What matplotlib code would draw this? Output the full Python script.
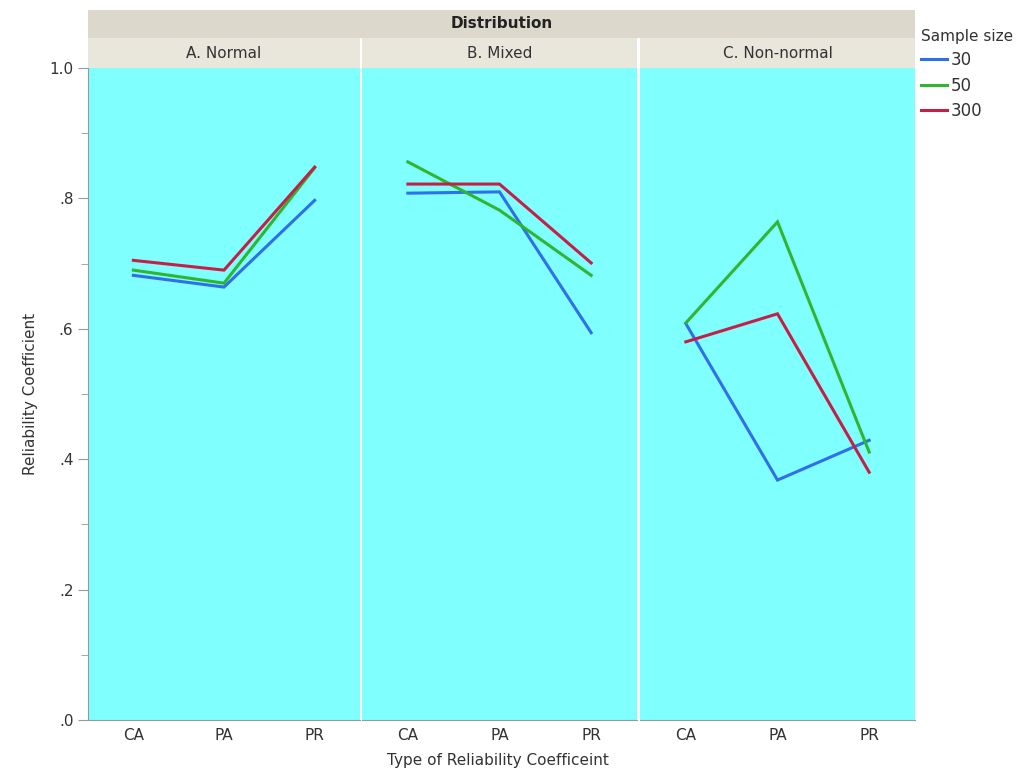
import matplotlib
matplotlib.use("Agg")
import matplotlib.pyplot as plt

# data
types = ["CA", "PA", "PR"]
panels = ["A. Normal", "B. Mixed", "C. Non-normal"]
sizes = ["30", "50", "300"]

n30 = [[0.682, 0.664, 0.797], [0.808, 0.810, 0.594], [0.608, 0.368, 0.429]]
n50 = [[0.690, 0.670, 0.847], [0.856, 0.782, 0.682], [0.609, 0.764, 0.411]]
n300 = [[0.705, 0.690, 0.848], [0.822, 0.822, 0.701], [0.580, 0.623, 0.380]]
series = [n30, n50, n300]
colors = ["#2f6fe8", "#2fb52f", "#c42047"]

yticks = [0.0, 0.2, 0.4, 0.6, 0.8, 1.0]
ylabels = [".0", ".2", ".4", ".6", ".8", "1.0"]
yminor = [0.1, 0.3, 0.5, 0.7, 0.9]

W, H = 1027, 770
fig = plt.figure(figsize=(W / 100, H / 100), dpi=100)
fig.patch.set_facecolor("white")

def fx(px):
    return px / W

def fy(py):
    return 1 - py / H

edges = [(88, 360), (362, 637), (640, 915)]
top, bot = 68, 720
txtcol = "#333333"

axes = []
for i, (l, r) in enumerate(edges):
    ax = fig.add_axes([fx(l), fy(bot), fx(r - l), fy(top) - fy(bot)])
    ax.set_facecolor("#80ffff")
    for j, s in enumerate(series):
        ax.plot([0.5, 1.5, 2.5], s[i], color=colors[j], lw=2.2,
                label=sizes[j], solid_joinstyle="miter")
    ax.set_xlim(0, 3)
    ax.set_ylim(0, 1)
    ax.set_xticks([0.5, 1.5, 2.5])
    ax.set_xticklabels(types, fontsize=11, color=txtcol)
    ax.tick_params(axis="x", length=0, pad=6)
    for sp in ["top", "right"]:
        ax.spines[sp].set_visible(False)
    ax.spines["bottom"].set_color("#999999")
    if i == 0:
        ax.set_yticks(yticks)
        ax.set_yticks(yminor, minor=True)
        ax.set_yticklabels(ylabels, fontsize=11, color=txtcol)
        ax.tick_params(axis="y", which="major", length=7, color="#999999")
        ax.tick_params(axis="y", which="minor", length=5, color="#999999")
        ax.spines["left"].set_color("#999999")
        ax.set_ylabel("Reliability Coefficient", fontsize=11, color=txtcol, labelpad=8)
    else:
        ax.spines["left"].set_visible(False)
        ax.set_yticks([])
    axes.append(ax)

    # panel strip
    sax = fig.add_axes([fx(l), fy(top), fx(r - l), fy(38) - fy(top)])
    sax.set_facecolor("#e9e6dc")
    sax.set_xticks([])
    sax.set_yticks([])
    for sp in sax.spines.values():
        sp.set_visible(False)
    sax.text(0.5, 0.5, panels[i], ha="center", va="center", fontsize=11, color=txtcol,
             transform=sax.transAxes)

# "Distribution" strip
dax = fig.add_axes([fx(88), fy(38), fx(915 - 88), fy(10) - fy(38)])
dax.set_facecolor("#dcd8cb")
dax.set_xticks([])
dax.set_yticks([])
for sp in dax.spines.values():
    sp.set_visible(False)
dax.text(0.5, 0.5, "Distribution", ha="center", va="center", fontsize=11,
         fontweight="bold", color="#222222", transform=dax.transAxes)

fig.text(fx(498), fy(760), "Type of Reliability Coefficeint", ha="center", va="center",
         fontsize=11, color=txtcol)

handles, labels = axes[0].get_legend_handles_labels()
leg = fig.legend(handles, labels, title="Sample size", loc="upper left",
                 bbox_to_anchor=(fx(914), fy(22)), frameon=False, fontsize=12,
                 title_fontsize=11, handlelength=1.6, handletextpad=0.2,
                 labelspacing=0.45, borderaxespad=0)
leg._legend_box.align = "left"
for t in leg.get_texts():
    t.set_color(txtcol)
leg.get_title().set_color(txtcol)

fig.savefig("out.png", dpi=100)
